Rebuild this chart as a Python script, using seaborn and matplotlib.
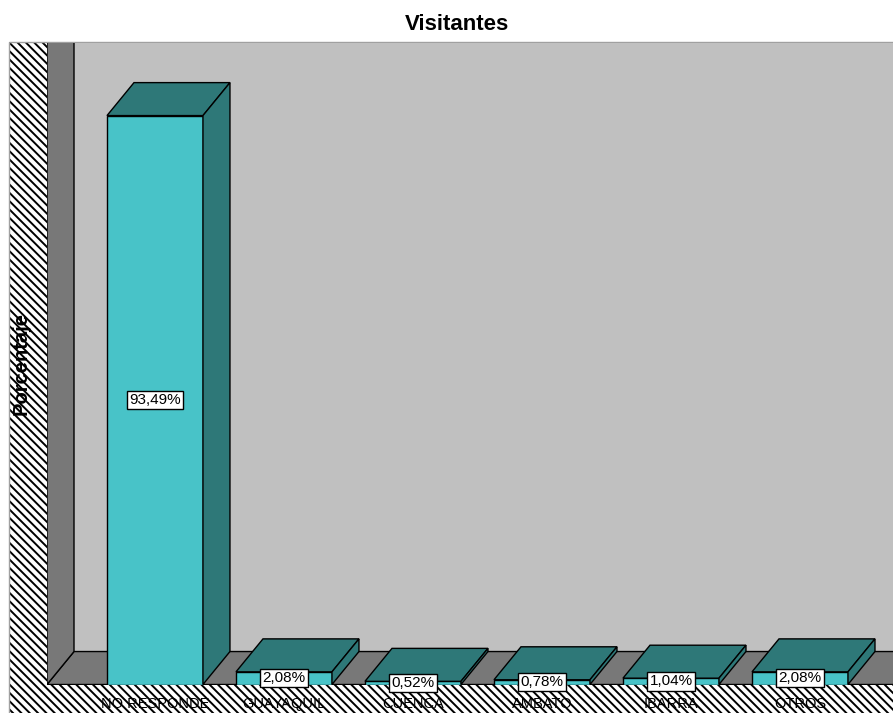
import matplotlib
matplotlib.use("Agg")
import matplotlib.pyplot as plt
from matplotlib.patches import Polygon, Rectangle
import pandas as pd
import seaborn as sns

categorias = ["NO RESPONDE", "GUAYAQUIL", "CUENCA", "AMBATO", "IBARRA", "OTROS"]
porcentajes = [93.49, 2.08, 0.52, 0.78, 1.04, 2.08]
etiquetas = ["93,49%", "2,08%", "0,52%", "0,78%", "1,04%", "2,08%"]

# colores estilo SPSS
frente = "#48c3c8"
oscuro = "#2e7878"
pared = "#c0c0c0"
piso = "#787878"

sns.set_theme(style="white")
plt.rcParams["font.family"] = ["Liberation Sans", "DejaVu Sans"]
plt.rcParams["hatch.linewidth"] = 1.4
plt.rcParams["text.color"] = "black"
plt.rcParams["axes.labelcolor"] = "black"
plt.rcParams["xtick.color"] = "black"

W, H = 893, 713
fig = plt.figure(figsize=(W / 100, H / 100), dpi=100)

# marco rayado exterior
fig.add_artist(Rectangle((9 / W, 0), 1, (H - 42) / H, transform=fig.transFigure,
                         facecolor="white", edgecolor="black", hatch="\\\\\\\\",
                         linewidth=0, zorder=-2))
fig.add_artist(Rectangle((9 / W, -0.01), 1, (H - 42) / H + 0.01, transform=fig.transFigure,
                         fill=False, edgecolor="#a0a0a0", linewidth=1, zorder=-1))

ax = fig.add_axes([47 / W, (H - 684.5) / H, (W - 47) / W, (684.5 - 43) / H])
ax.set_facecolor(pared)

df = pd.DataFrame({"Ciudad": categorias, "Porcentaje": porcentajes})
sns.barplot(data=df, x="Ciudad", y="Porcentaje", color=frente, saturation=1,
            width=0.744, edgecolor="black", linewidth=1, ax=ax, zorder=3)

# profundidad 3D (en unidades de datos)
ddx = 27 / 129
ddy = 33 / 6.092
xl, xr = -0.837, 5.721
ytop = 100 + ddy

# piso y pared izquierda
ax.add_patch(Polygon([(xl, 0), (xl + ddx, ddy), (xr + 1, ddy), (xr + 1, 0)],
                     facecolor=piso, edgecolor="black", linewidth=1, zorder=1))
ax.add_patch(Polygon([(xl, 0), (xl + ddx, ddy), (xl + ddx, ytop + 5), (xl, ytop + 5)],
                     facecolor=piso, edgecolor="black", linewidth=1, zorder=1.5))

for p, lab in zip(ax.containers[0], etiquetas):
    x0, w, h = p.get_x(), p.get_width(), p.get_height()
    ax.add_patch(Polygon([(x0, h), (x0 + ddx, h + ddy), (x0 + w + ddx, h + ddy), (x0 + w, h)],
                         facecolor=oscuro, edgecolor="black", linewidth=1, zorder=3))
    ax.add_patch(Polygon([(x0 + w, 0), (x0 + w, h), (x0 + w + ddx, h + ddy), (x0 + w + ddx, ddy)],
                         facecolor=oscuro, edgecolor="black", linewidth=1, zorder=3))
    ax.text(x0 + w / 2, h / 2, lab, ha="center", va="center", fontsize=11, zorder=6,
            bbox=dict(boxstyle="square,pad=0.15", facecolor="white", edgecolor="black", linewidth=1))

ax.set_xlim(xl, xr)
ax.set_ylim(0, ytop)
ax.set_yticks([])
ax.set_xlabel("")
ax.tick_params(axis="x", length=0, pad=9, labelsize=10.5, labelcolor="black")
ax.set_ylabel("Porcentaje", fontsize=14.5, fontweight="bold", color="black")
ax.yaxis.set_label_coords(-0.019, 0.5)
for s in ax.spines.values():
    s.set_visible(False)

fig.text(456.5 / W, 1 - 25 / H, "Visitantes", ha="center", va="center",
         fontsize=16, fontweight="bold")

fig.savefig("out.png", dpi=100)
